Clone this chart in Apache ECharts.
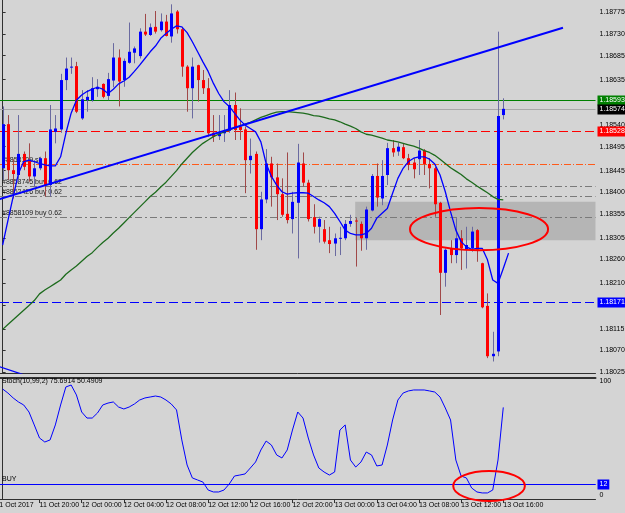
<!DOCTYPE html>
<html><head><meta charset="utf-8">
<script src="https://cdn.jsdelivr.net/npm/echarts@6/dist/echarts.min.js"></script>
<style>html,body{margin:0;padding:0;background:#d4d4d4}#c{width:625px;height:513px}</style>
</head><body><div id="c"></div>
<script>
const FONT = "'Liberation Sans',Arial,sans-serif";
const FS = 7;

// ---- data ----
// candles: [open, close, low, high], M30 bars from 11 Oct 16:30
const candles = [
[1.18450,1.18542,1.18426,1.18579],[1.18542,1.18446,1.18426,1.18561],[1.18446,1.18438,1.18387,1.18469],[1.18436,1.18480,1.18422,1.18561],
[1.18480,1.18453,1.18446,1.18485],[1.18467,1.18433,1.18422,1.18502],[1.18433,1.18450,1.18412,1.18467],[1.18450,1.18471,1.18446,1.18474],
[1.18471,1.18415,1.18391,1.18485],[1.18415,1.18531,1.18391,1.18582],[1.18526,1.18533,1.18502,1.18561],[1.18531,1.18634,1.18524,1.18647],
[1.18634,1.18658,1.18613,1.18681],[1.18661,1.18662,1.18647,1.18681],[1.18663,1.18568,1.18565,1.18672],[1.18554,1.18594,1.18551,1.18613],
[1.18592,1.18599,1.18568,1.18613],[1.18592,1.18617,1.18589,1.18640],[1.18615,1.18620,1.18599,1.18636],[1.18626,1.18599,1.18596,1.18627],
[1.18601,1.18636,1.18592,1.18649],[1.18633,1.18681,1.18619,1.18711],[1.18681,1.18631,1.18579,1.18698],[1.18634,1.18674,1.18620,1.18679],
[1.18670,1.18693,1.18668,1.18754],[1.18691,1.18700,1.18669,1.18704],[1.18684,1.18735,1.18679,1.18742],[1.18735,1.18729,1.18726,1.18772],
[1.18728,1.18744,1.18726,1.18752],[1.18745,1.18735,1.18731,1.18778],[1.18738,1.18756,1.18735,1.18773],[1.18756,1.18726,1.18725,1.18770],
[1.18725,1.18773,1.18712,1.18792],[1.18777,1.18740,1.18731,1.18780],[1.18740,1.18662,1.18641,1.18745],[1.18662,1.18617,1.18568,1.18665],
[1.18617,1.18662,1.18554,1.18681],[1.18665,1.18634,1.18589,1.18666],[1.18634,1.18617,1.18605,1.18655],[1.18617,1.18523,1.18516,1.18638],
[1.18524,1.18516,1.18505,1.18561],[1.18517,1.18523,1.18509,1.18561],[1.18523,1.18528,1.18505,1.18561],[1.18528,1.18582,1.18524,1.18613],
[1.18582,1.18530,1.18509,1.18608],[1.18537,1.18530,1.18509,1.18575],[1.18531,1.18467,1.18398,1.18537],[1.18467,1.18476,1.18439,1.18512],
[1.18480,1.18323,1.18280,1.18485],[1.18323,1.18385,1.18300,1.18401],[1.18385,1.18460,1.18377,1.18490],[1.18460,1.18431,1.18370,1.18474],
[1.18431,1.18396,1.18342,1.18460],[1.18396,1.18353,1.18349,1.18429],[1.18355,1.18342,1.18335,1.18483],[1.18344,1.18380,1.18314,1.18401],
[1.18378,1.18462,1.18262,1.18501],[1.18460,1.18420,1.18412,1.18483],[1.18420,1.18344,1.18339,1.18426],[1.18348,1.18328,1.18314,1.18375],
[1.18328,1.18344,1.18295,1.18349],[1.18323,1.18297,1.18293,1.18342],[1.18300,1.18292,1.18273,1.18328],[1.18293,1.18304,1.18267,1.18314],
[1.18304,1.18305,1.18269,1.18328],[1.18304,1.18334,1.18300,1.18342],[1.18334,1.18340,1.18328,1.18353],[1.18341,1.18340,1.18245,1.18346],
[1.18334,1.18304,1.18278,1.18339],[1.18304,1.18364,1.18280,1.18370],[1.18362,1.18434,1.18360,1.18438],[1.18434,1.18389,1.18370,1.18460],
[1.18387,1.18434,1.18373,1.18467],[1.18436,1.18492,1.18415,1.18503],[1.18492,1.18483,1.18474,1.18509],[1.18485,1.18495,1.18476,1.18503],
[1.18494,1.18471,1.18469,1.18502],[1.18471,1.18457,1.18446,1.18480],[1.18462,1.18448,1.18429,1.18471],[1.18469,1.18487,1.18436,1.18509],
[1.18487,1.18459,1.18436,1.18490],[1.18459,1.18450,1.18408,1.18471],[1.18450,1.18375,1.18349,1.18453],[1.18378,1.18232,1.18144,1.18380],
[1.18232,1.18280,1.18203,1.18283],[1.18283,1.18269,1.18252,1.18300],[1.18269,1.18304,1.18252,1.18346],[1.18304,1.18283,1.18238,1.18321],
[1.18281,1.18290,1.18241,1.18328],[1.18283,1.18318,1.18276,1.18328],[1.18321,1.18280,1.18255,1.18323],[1.18252,1.18160,1.18158,1.18253],
[1.18163,1.18058,1.18054,1.18189],[1.18058,1.18063,1.18047,1.18109],[1.18068,1.18559,1.18058,1.18735],[1.18561,1.18574,1.18552,1.18596]
];
const maFast = [1.18290,1.18341,1.18391,1.18439,1.18464,1.18467,1.18464,1.18460,1.18457,1.18455,
1.18455,1.18474,1.18523,1.18565,1.18592,1.18603,1.18610,1.18615,1.18619,1.18615,
1.18606,1.18615,1.18626,1.18632,1.18640,1.18652,1.18665,1.18679,1.18693,1.18705,
1.18721,1.18731,1.18740,1.18747,1.18745,1.18733,1.18714,1.18693,1.18672,1.18652,
1.18627,1.18606,1.18589,1.18579,1.18565,1.18551,1.18540,1.18533,1.18526,1.18505,
1.18460,1.18433,1.18415,1.18401,1.18396,1.18398,1.18399,1.18399,1.18398,1.18391,
1.18384,1.18378,1.18370,1.18356,1.18339,1.18321,1.18314,1.18311,1.18311,1.18314,
1.18325,1.18346,1.18356,1.18366,1.18398,1.18429,1.18450,1.18464,1.18471,1.18474,
1.18474,1.18469,1.18459,1.18436,1.18401,1.18359,1.18321,1.18297,1.18286,1.18281,
1.18283,1.18283,1.18259,1.18217,1.18210,1.18241,1.18273];
const maSlow = [1.18114,1.18124,1.18134,1.18144,1.18154,1.18164,1.18174,1.18188,1.18196,1.18203,
1.18210,1.18217,1.18229,1.18238,1.18246,1.18256,1.18266,1.18274,1.18285,1.18295,
1.18304,1.18315,1.18325,1.18336,1.18347,1.18358,1.18369,1.18380,1.18391,1.18400,
1.18411,1.18421,1.18433,1.18445,1.18459,1.18471,1.18483,1.18493,1.18502,1.18509,
1.18516,1.18521,1.18526,1.18530,1.18534,1.18538,1.18542,1.18546,1.18551,1.18556,
1.18560,1.18564,1.18567,1.18568,1.18568,1.18567,1.18566,1.18565,1.18563,1.18560,
1.18559,1.18556,1.18553,1.18551,1.18547,1.18542,1.18538,1.18533,1.18526,1.18521,
1.18519,1.18516,1.18513,1.18509,1.18507,1.18505,1.18502,1.18499,1.18496,1.18492,
1.18487,1.18483,1.18477,1.18469,1.18460,1.18451,1.18444,1.18437,1.18428,1.18421,
1.18413,1.18406,1.18399,1.18391,1.18385,1.18384];
const stochMain = [90.9,87.6,83.5,80.2,77.7,71.9,61.2,50.4,47.1,48.8,
61.2,77.7,92.6,94.2,86.0,71.9,66.9,66.9,71.1,77.7,
79.3,80.2,76.0,74.4,76.0,78.5,81.8,83.5,84.3,85.1,
84.3,81.8,78.5,73.6,48.8,28.1,17.4,15.7,14.0,7.4,
5.8,5.8,7.4,12.4,19.0,19.8,20.7,25.6,30.6,40.5,
47.9,44.6,36.4,33.9,40.5,57.0,71.9,66.9,50.4,36.4,
25.6,22.3,19.8,22.3,57.0,61.2,32.2,26.4,30.6,38.8,
36.4,27.3,28.1,44.6,65.3,81.8,87.6,89.3,90.1,90.1,
90.1,89.3,88.4,84.3,75.2,65.3,32.2,19.0,17.4,9.1,
5.8,5.0,5.0,7.4,32.2,75.7];
const priceTicks = [1.18775,1.18730,1.18685,1.18635,1.18540,1.18495,1.18445,1.18400,1.18355,1.18305,1.18260,1.18210,1.18165,1.18115,1.18070,1.18025];
const stochTicks = [0, 100];
// horizontal levels: price-label lines, stop line, order lines
const levelValues = [1.18593, 1.18574, 1.18528, 1.18171, 1.18459, 1.18413, 1.18392, 1.18348];
const levelNames  = ['', '', '', '', '#8858109 sl', '#8858745 buy 0.62', '#8862426 buy 0.62', '#8858109 buy 0.62'];
const stochLevel = 12;
const trendLine = [[-5, 1.18371], [106.33, 1.18743]];
const trendLine2 = [[-3, 1.18045], [6, 1.18012]];
const zone = [[66.9, 1.18380, 112.5, 1.18300]];
const ellipseMain = [[90.4, 1.18323, 13.1, 0.00044]];   // centre bar, centre price, radius bars, radius price
const ellipseStoch = [[92.3, 10.7, 6.8, 12.4]];
const stochTitle = 'Stoch(10,99,2) 75.6914 50.4909';
const firstDateLabel = '11 Oct 2017';

// ---- styles for the level lines ----
const LEVEL_STYLE = [
  { stroke: '#008000', dash: null, box: '#008000' },
  { stroke: '#a8a8a8', dash: null, box: '#000000' },
  { stroke: '#ff0000', dash: [9, 4], box: '#ff0000' },
  { stroke: '#0000ff', dash: [9, 4], box: '#0000ff' },
  { stroke: '#ff5a1a', dash: [7, 2, 1, 2] },
  { stroke: '#7a7a7a', dash: [7, 3, 2, 3] },
  { stroke: '#7a7a7a', dash: [7, 3, 2, 3] },
  { stroke: '#7a7a7a', dash: [7, 3, 2, 3] }
];

// ---- categories (M30 slots) ----
const N = 113;
const MONTHS = ['Jan','Feb','Mar','Apr','May','Jun','Jul','Aug','Sep','Oct','Nov','Dec'];
const start = Date.UTC(2017, 9, 11, 16, 30);
const pad = n => (n < 10 ? '0' : '') + n;
const categories = [];
for (let i = 0; i < N; i++) {
  const d = new Date(start + i * 1800000);
  categories.push(d.getUTCDate() + ' ' + MONTHS[d.getUTCMonth()] + ' ' + pad(d.getUTCHours()) + ':' + pad(d.getUTCMinutes()));
}
const showTick = (idx) => {
  if (idx === 0 || idx >= candles.length) return false;
  const d = new Date(start + idx * 1800000);
  return d.getUTCMinutes() === 0 && d.getUTCHours() % 4 === 0;
};

const chart = echarts.init(document.getElementById('c'));
const AX = '#303030';
const FONTSTR = FS + 'px ' + FONT;
const lbl = { fontSize: FS, fontFamily: FONT, color: '#000' };

function ellipseRender(params, api) {
  const c = api.coord([api.value(0), api.value(1)]);
  const e = api.coord([api.value(0) + api.value(2), api.value(1) + api.value(3)]);
  return { type: 'ellipse', shape: { cx: c[0], cy: c[1], rx: Math.abs(e[0] - c[0]), ry: Math.abs(e[1] - c[1]) },
    style: { fill: null, stroke: '#ff0000', lineWidth: 2 } };
}

const option = {
  animation: false,
  backgroundColor: '#d4d4d4',
  title: { text: stochTitle, left: 2, top: 378, padding: 0, textStyle: { fontSize: FS, fontWeight: 'normal', fontFamily: FONT, color: '#000' } },
  grid: [
    { left: 0, right: 29.5, top: 0, height: 373, outerBoundsMode: 'none', containLabel: false },
    { left: 0, right: 29.5, top: 378, height: 121, outerBoundsMode: 'none', containLabel: false }
  ],
  xAxis: [
    { type: 'category', gridIndex: 0, data: categories, boundaryGap: true,
      axisLine: { show: true, lineStyle: { color: AX, width: 1 } }, axisTick: { show: false }, axisLabel: { show: false }, splitLine: { show: false } },
    { type: 'category', gridIndex: 1, data: categories, boundaryGap: true,
      axisLine: { show: true, lineStyle: { color: AX, width: 1 } },
      axisTick: { show: true, interval: showTick, alignWithLabel: true, length: 4, lineStyle: { color: AX } },
      axisLabel: Object.assign({ show: true, interval: showTick, align: 'left', margin: 3, showMinLabel: true, showMaxLabel: true, hideOverlap: false }, lbl),
      splitLine: { show: false } },
    { type: 'value', gridIndex: 0, min: -0.5, max: N - 0.5, show: false },
    { type: 'value', gridIndex: 1, min: -0.5, max: N - 0.5, position: 'top',
      axisLine: { show: true, onZero: false, lineStyle: { color: AX, width: 2 } }, axisTick: { show: false }, axisLabel: { show: false }, splitLine: { show: false } }
  ],
  yAxis: [
    { type: 'value', gridIndex: 0, position: 'right', min: 1.18023, max: 1.18801,
      axisLine: { show: true, lineStyle: { color: AX } },
      axisTick: { show: true, customValues: priceTicks, length: 3, lineStyle: { color: AX } },
      axisLabel: Object.assign({ customValues: priceTicks, formatter: v => v.toFixed(5), margin: 4 }, lbl),
      splitLine: { show: false } },
    { type: 'value', gridIndex: 1, position: 'right', min: 0, max: 100,
      axisLine: { show: true, lineStyle: { color: AX } },
      axisTick: { show: false },
      axisLabel: Object.assign({ customValues: stochTicks, margin: 4, verticalAlignMinLabel: 'bottom', verticalAlignMaxLabel: 'top' }, lbl),
      splitLine: { show: false } }
  ],
  graphic: [
    { type: 'text', x: -4, y: 502, style: { text: firstDateLabel, font: FONTSTR, fill: '#000' } }
  ],
  series: [
    { type: 'custom', name: 'zone', xAxisIndex: 2, yAxisIndex: 0, z: 1, silent: true,
      data: zone,
      renderItem(params, api) {
        const a = api.coord([api.value(0), api.value(1)]);
        const b = api.coord([api.value(2), api.value(3)]);
        return { type: 'rect', shape: { x: a[0], y: a[1], width: b[0] - a[0], height: b[1] - a[1] }, style: { fill: '#b5b5b5' } };
      } },
    { type: 'custom', name: 'levels', xAxisIndex: 0, yAxisIndex: 0, z: 2, silent: true, clip: false,
      data: levelValues.map(v => [0, v]),
      encode: { x: 0, y: 1 },
      renderItem(params, api) {
        const k = params.dataIndex;
        const v = api.value(1);
        const cs = params.coordSys;
        const y = Math.round(api.coord([0, v])[1]) + 0.5;
        const st = LEVEL_STYLE[k];
        const ch = [{ type: 'line', shape: { x1: cs.x, y1: y, x2: cs.x + cs.width, y2: y },
          style: { stroke: st.stroke, lineWidth: 1, lineDash: st.dash } }];
        if (st.box) ch.push({ type: 'text', style: { x: cs.x + cs.width + 2, y: y, text: v.toFixed(5), fill: '#fff', font: FONTSTR,
          align: 'left', verticalAlign: 'middle', backgroundColor: st.box, padding: [2, 2, 1, 2] } });
        if (levelNames[k]) ch.push({ type: 'text', style: { x: cs.x + 2, y: y - 1, text: levelNames[k], fill: '#1a1a1a', font: FONTSTR,
          align: 'left', verticalAlign: 'bottom' } });
        return { type: 'group', children: ch };
      } },
    { type: 'custom', name: 'candles', xAxisIndex: 0, yAxisIndex: 0, z: 3,
      data: candles.map((c, i) => [i, c[0], c[1], c[2], c[3]]),
      encode: { x: 0, y: [1, 2, 3, 4] },
      renderItem(params, api) {
        const i = api.value(0), o = api.value(1), c = api.value(2), l = api.value(3), h = api.value(4);
        const pO = api.coord([i, o]), pC = api.coord([i, c]), pL = api.coord([i, l]), pH = api.coord([i, h]);
        const x = Math.round(pO[0]);
        const bull = c >= o;
        const top = Math.min(pO[1], pC[1]), bot = Math.max(pO[1], pC[1]);
        return { type: 'group', children: [
          { type: 'line', shape: { x1: x + 0.5, y1: pH[1], x2: x + 0.5, y2: pL[1] }, style: { stroke: bull ? '#6a6aa0' : '#a04848', lineWidth: 1 } },
          { type: 'rect', shape: { x: x - 1, y: top, width: 3, height: Math.max(1, bot - top) }, style: { fill: bull ? '#0000ff' : '#ff0000' } }
        ] };
      } },
    { type: 'line', name: 'MA slow', xAxisIndex: 0, yAxisIndex: 0, z: 4, data: maSlow, showSymbol: false, silent: true,
      lineStyle: { color: '#1d6b1d', width: 1.3 } },
    { type: 'line', name: 'MA fast', xAxisIndex: 0, yAxisIndex: 0, z: 4, data: maFast, showSymbol: false, silent: true,
      lineStyle: { color: '#0000ff', width: 1.3 } },
    { type: 'line', name: 'trend', xAxisIndex: 2, yAxisIndex: 0, z: 5, data: trendLine, showSymbol: false, silent: true,
      lineStyle: { color: '#0000ff', width: 2 } },
    { type: 'line', name: 'trend2', xAxisIndex: 2, yAxisIndex: 0, z: 5, data: trendLine2, showSymbol: false, silent: true,
      lineStyle: { color: '#0000ff', width: 1.3 } },
    { type: 'custom', name: 'ellipse', xAxisIndex: 2, yAxisIndex: 0, z: 6, clip: false, silent: true,
      data: ellipseMain, renderItem: ellipseRender },
    { type: 'line', name: 'stoch', xAxisIndex: 1, yAxisIndex: 1, z: 4, data: stochMain, showSymbol: false, silent: true,
      lineStyle: { color: '#0000ff', width: 1 },
      markLine: { silent: true, symbol: ['none', 'none'], animation: false,
        data: [
          { yAxis: stochLevel, lineStyle: { color: '#0000ff', type: 'solid', width: 1 },
            label: { show: true, position: 'end', formatter: String(stochLevel), color: '#fff', backgroundColor: '#0000ff', padding: [2, 2, 1, 2], fontSize: FS, fontFamily: FONT, distance: 2 } },
          { yAxis: stochLevel, lineStyle: { color: '#0000ff', type: 'solid', width: 1 },
            label: Object.assign({ show: true, position: 'insideStartTop', formatter: 'BUY', distance: 2 }, lbl) }
        ] } },
    { type: 'custom', name: 'ellipse2', xAxisIndex: 3, yAxisIndex: 1, z: 6, clip: false, silent: true,
      data: ellipseStoch, renderItem: ellipseRender }
  ]
};
chart.setOption(option);
</script></body></html>
